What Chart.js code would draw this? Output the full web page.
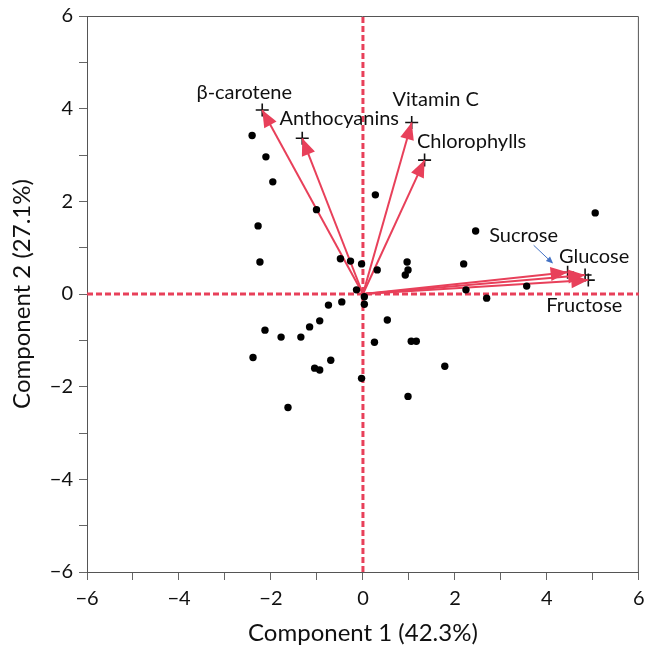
<!DOCTYPE html>
<html>
<head>
<meta charset="utf-8">
<script src="https://cdn.jsdelivr.net/npm/chart.js@4.4.1/dist/chart.umd.min.js"></script>
<style>
  html, body { margin: 0; padding: 0; background: #fff; }
</style>
</head>
<body>
<canvas id="chart" width="647" height="649"></canvas>
<script>
// PCA scores (Component 1, Component 2)
const scoreX = [-2.41, -2.11, -1.96, -2.28, -2.24, -1.01, 0.27, -0.49, -0.27, -0.03,
  0.31, 0.96, 0.98, 0.92, -0.14, 0.03, 0.03, -0.75, -0.46, 2.19,
  2.45, 5.05, 2.24, 2.69, 3.56, -2.13, -2.39, -1.78, -1.35, -1.16,
  -0.94, -0.70, -1.05, -0.94, -1.63, -0.03, 0.25, 0.53, 1.05, 1.16,
  1.78, 0.98];
const scoreY = [3.42, 2.96, 2.42, 1.47, 0.69, 1.82, 2.14, 0.76, 0.71, 0.65,
  0.52, 0.69, 0.52, 0.41, 0.09, -0.06, -0.22, -0.24, -0.17, 0.65,
  1.36, 1.75, 0.09, -0.09, 0.17, -0.78, -1.37, -0.93, -0.93, -0.71,
  -0.58, -1.43, -1.60, -1.64, -2.45, -1.82, -1.04, -0.56, -1.02, -1.02,
  -1.56, -2.21];

// loadings (vectors)
const loadingNames = ['β-carotene', 'Anthocyanins', 'Vitamin C', 'Chlorophylls', 'Sucrose', 'Glucose', 'Fructose'];
const loadingX = [-2.19, -1.32, 1.06, 1.34, 4.45, 4.83, 4.90];
const loadingY = [3.97, 3.36, 3.70, 2.89, 0.47, 0.41, 0.30];

const axisMin = -6;
const axisMax = 6;

// label placement in pixels relative to the vector tip
const labelOffsets = [[-18, -18], [37, -20], [24, -23], [47, -19], [-44, -37], [9, -18], [-4, 25]];

const RED = '#e8405a';
const FONT = 'Lato, Carlito, "Liberation Sans", sans-serif';

const fmt = (v) => (v % 2 === 0 ? String(v).replace('-', '\u2212') : '');

const datasets = [];

// scores
datasets.push({
  label: 'scores',
  data: scoreX.map((x, i) => ({ x, y: scoreY[i] })),
  pointRadius: 3.7,
  pointBackgroundColor: '#000',
  pointBorderWidth: 0,
  showLine: false,
  order: 0,
});

// loading vectors
loadingNames.forEach((name, i) => {
  datasets.push({
    label: name,
    data: [{ x: 0, y: 0 }, { x: loadingX[i], y: loadingY[i] }],
    showLine: true,
    borderColor: RED,
    borderWidth: 2,
    pointRadius: 0,
    order: 1,
    isVector: true,
  });
});

// crosshair marks at vector tips
datasets.push({
  label: 'tips',
  data: loadingX.map((x, i) => ({ x, y: loadingY[i] })),
  pointStyle: 'cross',
  pointRadius: 6.5,
  pointBorderColor: '#111',
  pointBorderWidth: 1.6,
  showLine: false,
  order: 2,
});

// zero lines
datasets.push({
  label: 'x0',
  data: [{ x: 0, y: axisMin }, { x: 0, y: axisMax }],
  showLine: true,
  borderColor: RED,
  borderWidth: 3,
  borderDash: [6, 3],
  pointRadius: 0,
  order: 3,
});
datasets.push({
  label: 'y0',
  data: [{ x: axisMin, y: 0 }, { x: axisMax, y: 0 }],
  showLine: true,
  borderColor: RED,
  borderWidth: 3,
  borderDash: [6, 3],
  pointRadius: 0,
  order: 3,
});

const arrowHeads = {
  id: 'arrowHeads',
  afterDatasetDraw(chart, args) {
    const ds = chart.data.datasets[args.index];
    if (!ds.isVector) return;
    const [p0, p1] = args.meta.data;
    const ang = Math.atan2(p1.y - p0.y, p1.x - p0.x);
    const len = 17, half = 7;
    const ctx = chart.ctx;
    ctx.save();
    ctx.fillStyle = RED;
    ctx.beginPath();
    ctx.moveTo(p1.x, p1.y);
    ctx.lineTo(p1.x - len * Math.cos(ang) + half * Math.sin(ang), p1.y - len * Math.sin(ang) - half * Math.cos(ang));
    ctx.lineTo(p1.x - len * Math.cos(ang) - half * Math.sin(ang), p1.y - len * Math.sin(ang) + half * Math.cos(ang));
    ctx.closePath();
    ctx.fill();
    ctx.restore();
  },
};

const frame = {
  id: 'frame',
  beforeDatasetsDraw(chart) {
    const { ctx, chartArea: a } = chart;
    ctx.save();
    ctx.strokeStyle = '#555';
    ctx.lineWidth = 1;
    ctx.beginPath();
    ctx.moveTo(a.left, a.top + 0.5);
    ctx.lineTo(a.right - 0.5, a.top + 0.5);
    ctx.lineTo(a.right - 0.5, a.bottom);
    ctx.stroke();
    ctx.restore();
  },
};

const vectorLabels = {
  id: 'vectorLabels',
  afterDraw(chart) {
    const { ctx } = chart;
    const sx = chart.scales.x, sy = chart.scales.y;
    ctx.save();
    ctx.font = '20px ' + FONT;
    ctx.fillStyle = '#111';
    ctx.textAlign = 'center';
    ctx.textBaseline = 'middle';
    loadingNames.forEach((name, i) => {
      const px = sx.getPixelForValue(loadingX[i]);
      const py = sy.getPixelForValue(loadingY[i]);
      ctx.fillText(name, px + labelOffsets[i][0], py + labelOffsets[i][1]);
    });
    // small blue pointer from the Sucrose label
    const k = loadingNames.indexOf('Sucrose');
    const bx = sx.getPixelForValue(loadingX[k]);
    const by = sy.getPixelForValue(loadingY[k]);
    const x1 = bx - 34, y1 = by - 27, x2 = bx - 16, y2 = by - 10;
    const ang = Math.atan2(y2 - y1, x2 - x1);
    ctx.strokeStyle = '#4472c4';
    ctx.fillStyle = '#4472c4';
    ctx.lineWidth = 1;
    ctx.beginPath();
    ctx.moveTo(x1, y1);
    ctx.lineTo(x2, y2);
    ctx.stroke();
    ctx.beginPath();
    ctx.moveTo(x2 + 2 * Math.cos(ang), y2 + 2 * Math.sin(ang));
    ctx.lineTo(x2 - 5 * Math.cos(ang) + 3 * Math.sin(ang), y2 - 5 * Math.sin(ang) - 3 * Math.cos(ang));
    ctx.lineTo(x2 - 5 * Math.cos(ang) - 3 * Math.sin(ang), y2 - 5 * Math.sin(ang) + 3 * Math.cos(ang));
    ctx.closePath();
    ctx.fill();
    ctx.restore();
  },
};

const tickFont = { family: FONT, size: 20 };
const titleFont = { family: FONT, size: 24 };

new Chart(document.getElementById('chart'), {
  type: 'scatter',
  data: { datasets },
  options: {
    responsive: false,
    animation: false,
    layout: { padding: { top: 16, right: 5, left: 0, bottom: 0 } },
    plugins: { legend: { display: false }, tooltip: { enabled: false } },
    scales: {
      x: {
        type: 'linear',
        min: axisMin,
        max: axisMax,
        ticks: { stepSize: 1, autoSkip: false, maxRotation: 0, padding: 7, color: '#111', font: tickFont, callback: fmt },
        grid: { drawOnChartArea: false, drawTicks: true, tickLength: 8, color: '#666' },
        border: { display: true, color: '#555', width: 1 },
        title: { display: true, text: 'Component 1 (42.3%)', color: '#111', font: titleFont, padding: { top: 0, bottom: 1 } },
        afterFit: (s) => { s.height = 77; s.paddingLeft = 0; s.paddingRight = 0; },
      },
      y: {
        type: 'linear',
        min: axisMin,
        max: axisMax,
        ticks: { stepSize: 1, autoSkip: false, padding: 6, color: '#111', font: tickFont, callback: fmt },
        grid: { drawOnChartArea: false, drawTicks: true, tickLength: 8, color: '#666' },
        border: { display: true, color: '#555', width: 1 },
        title: { display: true, text: 'Component 2 (27.1%)', color: '#111', font: titleFont, padding: { top: 8, bottom: 0 } },
        afterFit: (s) => { s.width = 87; s.paddingTop = 0; s.paddingBottom = 0; },
      },
    },
  },
  plugins: [arrowHeads, frame, vectorLabels],
});
</script>
</body>
</html>
